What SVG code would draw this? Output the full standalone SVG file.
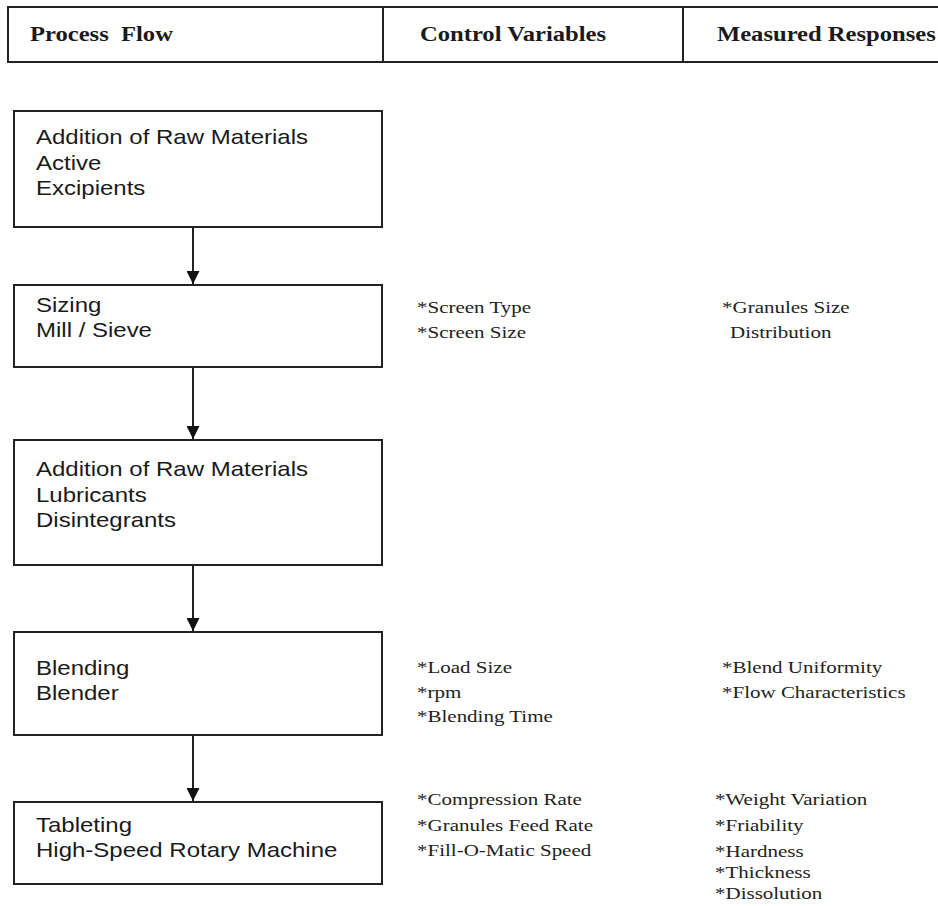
<svg xmlns="http://www.w3.org/2000/svg" width="938" height="906" viewBox="0 0 938 906">
<defs>
<style>
.box{fill:#fff;stroke:#222;stroke-width:2}
.hd{font-family:"Liberation Serif",serif;font-weight:bold;font-size:20.5px;fill:#1a1a1a}
.nt{font-family:"Liberation Sans",sans-serif;font-size:20px;fill:#1a1a1a}
.vt{font-family:"Liberation Serif",serif;font-size:17.5px;fill:#222}
.cn{stroke:#222;stroke-width:2;fill:none}
</style>
<marker id="ah" markerWidth="13" markerHeight="13" refX="13" refY="6.5" orient="auto" markerUnits="userSpaceOnUse" viewBox="0 0 13 13">
<path d="M0,0 L13,6.5 L0,13 Z" fill="#111"/>
</marker>
</defs>
<rect width="938" height="906" fill="#fff"/>
<g id="header">
<rect class="box" x="8" y="7" width="940" height="55"/>
<line class="cn" x1="383" y1="7" x2="383" y2="62"/>
<line class="cn" x1="683" y1="7" x2="683" y2="62"/>
<text class="hd" transform="translate(30 41) scale(1.2 1)" xml:space="preserve">Process  Flow</text>
<text class="hd" transform="translate(420 41) scale(1.2 1)">Control Variables</text>
<text class="hd" transform="translate(717 41) scale(1.2 1)">Measured Responses</text>
</g>
<g id="n1">
<rect class="box" x="14" y="111" width="368" height="116"/>
<text class="nt" transform="translate(36 144) scale(1.2 1)">Addition of Raw Materials</text>
<text class="nt" transform="translate(36 170) scale(1.2 1)">Active</text>
<text class="nt" transform="translate(36 195) scale(1.2 1)">Excipients</text>
</g>
<g id="n2">
<rect class="box" x="14" y="285" width="368" height="82"/>
<text class="nt" transform="translate(36 312) scale(1.2 1)">Sizing</text>
<text class="nt" transform="translate(36 337) scale(1.2 1)">Mill / Sieve</text>
</g>
<g id="n3">
<rect class="box" x="14" y="440" width="368" height="125"/>
<text class="nt" transform="translate(36 476) scale(1.2 1)">Addition of Raw Materials</text>
<text class="nt" transform="translate(36 502) scale(1.2 1)">Lubricants</text>
<text class="nt" transform="translate(36 527) scale(1.2 1)">Disintegrants</text>
</g>
<g id="n4">
<rect class="box" x="14" y="632" width="368" height="103"/>
<text class="nt" transform="translate(36 675) scale(1.2 1)">Blending</text>
<text class="nt" transform="translate(36 700) scale(1.2 1)">Blender</text>
</g>
<g id="n5">
<rect class="box" x="14" y="802" width="368" height="82"/>
<text class="nt" transform="translate(36 832) scale(1.2 1)">Tableting</text>
<text class="nt" transform="translate(36 857) scale(1.2 1)">High-Speed Rotary Machine</text>
</g>
<g id="vars">
<text class="vt" transform="translate(417 313) scale(1.2 1)">*Screen Type</text>
<text class="vt" transform="translate(417 338) scale(1.2 1)">*Screen Size</text>
<text class="vt" transform="translate(722 313) scale(1.2 1)">*Granules Size</text>
<text class="vt" transform="translate(730 338) scale(1.2 1)">Distribution</text>
<text class="vt" transform="translate(417 673) scale(1.2 1)">*Load Size</text>
<text class="vt" transform="translate(417 698) scale(1.2 1)">*rpm</text>
<text class="vt" transform="translate(417 722) scale(1.2 1)">*Blending Time</text>
<text class="vt" transform="translate(722 673) scale(1.2 1)">*Blend Uniformity</text>
<text class="vt" transform="translate(722 698) scale(1.2 1)">*Flow Characteristics</text>
<text class="vt" transform="translate(417 805) scale(1.2 1)">*Compression Rate</text>
<text class="vt" transform="translate(417 831) scale(1.2 1)">*Granules Feed Rate</text>
<text class="vt" transform="translate(417 856) scale(1.2 1)">*Fill-O-Matic Speed</text>
<text class="vt" transform="translate(715 805) scale(1.2 1)">*Weight Variation</text>
<text class="vt" transform="translate(715 831) scale(1.2 1)">*Friability</text>
<text class="vt" transform="translate(715 857) scale(1.2 1)">*Hardness</text>
<text class="vt" transform="translate(715 878) scale(1.2 1)">*Thickness</text>
<text class="vt" transform="translate(715 899) scale(1.2 1)">*Dissolution</text>
</g>
<g id="connectors">
<line class="cn" x1="193" y1="227" x2="193" y2="284" marker-end="url(#ah)"/>
<line class="cn" x1="193" y1="367" x2="193" y2="439" marker-end="url(#ah)"/>
<line class="cn" x1="193" y1="565" x2="193" y2="631" marker-end="url(#ah)"/>
<line class="cn" x1="193" y1="735" x2="193" y2="801" marker-end="url(#ah)"/>
</g>
</svg>
